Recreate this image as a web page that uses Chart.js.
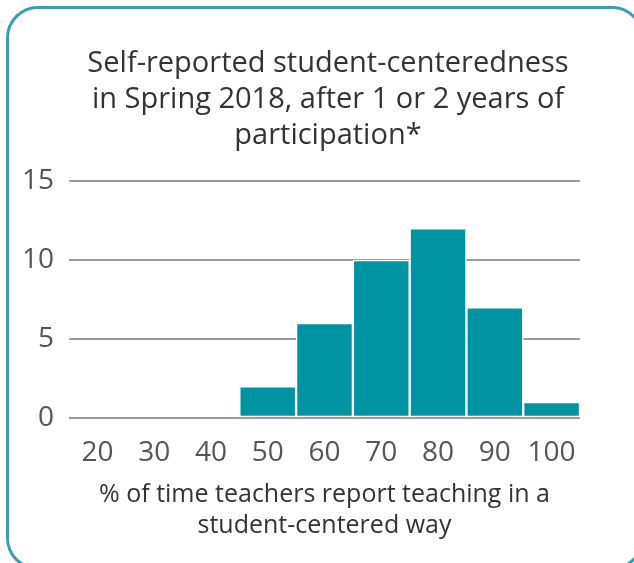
<!DOCTYPE html>
<html>
<head>
<meta charset="utf-8">
<script src="https://cdn.jsdelivr.net/npm/chart.js@4/dist/chart.umd.min.js"></script>
<style>
  html, body { margin: 0; padding: 0; background: #fff; overflow: hidden; }
  .card {
    position: absolute; left: 6px; top: 6px;
    width: 632px; height: 558px;
    border: 3px solid #3a9db5; border-radius: 32px;
  }
  #chart { position: absolute; left: 0; top: 0; }
</style>
</head>
<body>
<div class="card"></div>
<canvas id="chart" width="634" height="563"></canvas>
<script>
const categories = ['20', '30', '40', '50', '60', '70', '80', '90', '100'];
const teacherCounts = [0, 0, 0, 2, 6, 10, 12, 7, 1];
const yTicks = [0, 5, 10, 15];

const titleLines = ['Self-reported student-centeredness', 'in Spring 2018, after 1 or 2 years of', 'participation*'];
const xTitleLines = ['% of time teachers report teaching in a', 'student-centered way'];

const ctx = document.getElementById('chart').getContext('2d');

new Chart(ctx, {
	type: 'bar',
	data: {
		labels: categories,
		datasets: [{
			data: teacherCounts,
			backgroundColor: '#0094a3',
			borderColor: '#ffffff',
			borderWidth: 1.5,
			borderSkipped: false,
			barPercentage: 1,
			categoryPercentage: 1,
		}],
	},
	options: {
		responsive: false,
		animation: false,
		layout: { padding: { top: 16, left: 22, right: 0, bottom: 0 } },
		plugins: {
			legend: { display: false },
			tooltip: { enabled: false },
			title: {
				display: true,
				text: titleLines,
				color: '#333333',
				font: { family: 'Open Sans', size: 29, weight: 'normal', lineHeight: '36px' },
				padding: { top: 30, bottom: 27 },
			},
		},
		scales: {
			x: {
				grid: { display: false, drawTicks: false },
				border: { display: false },
				ticks: {
					color: '#555555',
					font: { family: 'Open Sans', size: 28 },
					padding: 18,
					maxRotation: 0,
				},
				title: {
					display: true,
					text: xTitleLines,
					color: '#333333',
					font: { family: 'Open Sans', size: 25, lineHeight: '31px' },
					padding: { top: 0, bottom: 22 },
				},
				afterFit: (scale) => { scale.height = 145; },
			},
			y: {
				min: 0,
				max: 15,
				afterBuildTicks: (scale) => { scale.ticks = yTicks.map(v => ({ value: v })); },
				grid: { color: '#9a9a9a', lineWidth: 2, drawTicks: false },
				border: { display: false },
				ticks: {
					color: '#555555',
					font: { family: 'Open Sans', size: 28 },
					padding: 15,
				},
				afterFit: (scale) => { scale.width = 47; },
			},
			yRight: {
				position: 'right',
				display: true,
				grid: { display: false, drawTicks: false },
				border: { display: false },
				ticks: { display: false },
				afterFit: (scale) => { scale.width = 54; },
			},
		},
	},
});
</script>
</body>
</html>
